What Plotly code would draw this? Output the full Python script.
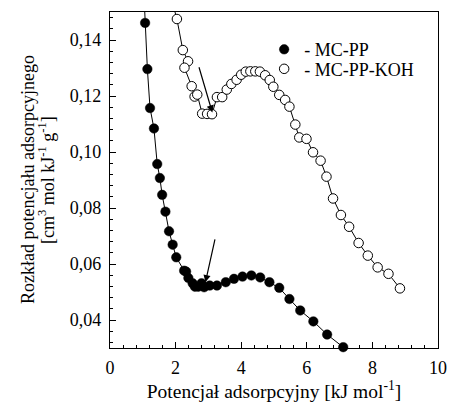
import plotly.graph_objects as go

# MC-PP (filled circles)
mcpp_x = [1.07, 1.14, 1.22, 1.34, 1.44, 1.52, 1.59, 1.69, 1.80, 1.91, 2.02, 2.26, 2.32,
          2.39, 2.52, 2.59, 2.69, 2.79, 2.87, 3.04, 3.26, 3.53, 3.78, 4.04, 4.31, 4.58,
          4.86, 5.16, 5.47, 5.80, 6.20, 6.62, 7.11]
mcpp_y = [0.1461, 0.1296, 0.1157, 0.1084, 0.0957, 0.0907, 0.0847, 0.0787, 0.0717, 0.0669,
          0.0624, 0.0576, 0.0573, 0.0550, 0.0531, 0.0519, 0.0519, 0.0531, 0.0517, 0.0523,
          0.0523, 0.0535, 0.0547, 0.0555, 0.0559, 0.0552, 0.0535, 0.0515, 0.0475, 0.0434,
          0.0395, 0.0348, 0.0303]
# points of the curve that lie above the plotted range
mcpp_lead_x = [1.02]
mcpp_lead_y = [0.16]

# MC-PP-KOH (open circles)
koh_x = [2.04, 2.22, 2.38, 2.27, 2.49, 2.58, 2.66, 2.81, 2.96, 3.11, 3.26, 3.42, 3.56,
         3.70, 3.86, 4.00, 4.14, 4.28, 4.43, 4.57, 4.73, 4.87, 4.98, 5.16, 5.34, 5.47,
         5.65, 5.77, 5.99, 6.19, 6.42, 6.60, 6.80, 7.04, 7.29, 7.58, 7.86, 8.16, 8.49, 8.84]
koh_y = [0.1475, 0.1364, 0.1324, 0.1301, 0.1235, 0.1198, 0.1205, 0.1137, 0.1136, 0.1135,
         0.1196, 0.1196, 0.1223, 0.1243, 0.1258, 0.1276, 0.1287, 0.1288, 0.1288, 0.1287,
         0.1274, 0.1257, 0.1233, 0.1204, 0.1186, 0.1162, 0.1098, 0.1052, 0.1047, 0.0999,
         0.0969, 0.0912, 0.0834, 0.0775, 0.0733, 0.0675, 0.0630, 0.0588, 0.0565, 0.0513]
koh_lead_x = [1.75]
koh_lead_y = [0.16]

# arrows: (tail x, tail y, tip x, tip y)
arrows = [(2.70, 0.1308, 3.12, 0.1141),
          (3.21, 0.0693, 2.91, 0.0535)]

FONT = "Liberation Serif, Times New Roman, DejaVu Serif, serif"
FS = 18

fig = go.Figure()

# connecting lines
fig.add_trace(go.Scatter(x=mcpp_lead_x + mcpp_x, y=mcpp_lead_y + mcpp_y, mode="lines",
                         line=dict(color="black", width=1), showlegend=False,
                         hoverinfo="skip"))
fig.add_trace(go.Scatter(x=koh_lead_x + koh_x, y=koh_lead_y + koh_y, mode="lines",
                         line=dict(color="black", width=1), showlegend=False,
                         hoverinfo="skip"))

# markers (each series gets its own small legend so the rows sit close together)
fig.add_trace(go.Scatter(x=mcpp_x, y=mcpp_y, mode="markers", name="- MC-PP",
                         marker=dict(symbol="circle", size=9.5, color="black",
                                     line=dict(color="black", width=0.5)),
                         cliponaxis=False, legend="legend"))
fig.add_trace(go.Scatter(x=koh_x, y=koh_y, mode="markers", name="- MC-PP-KOH",
                         marker=dict(symbol="circle", size=9.5, color="white",
                                     line=dict(color="black", width=1)),
                         cliponaxis=False, legend="legend2"))

for tx, ty, hx, hy in arrows:
    fig.add_annotation(x=hx, y=hy, ax=tx, ay=ty, xref="x", yref="y", axref="x", ayref="y",
                       text="", showarrow=True, arrowhead=2, arrowsize=1.2,
                       arrowwidth=1.2, arrowcolor="black")

# y-axis title, two tight lines
fig.add_annotation(text="Rozkład potencjału adsorpcyjnego", textangle=-90,
                   xref="paper", yref="paper", x=0, y=0.5, xanchor="center",
                   yanchor="middle", xshift=-82, showarrow=False,
                   font=dict(family=FONT, size=FS, color="black"))
fig.add_annotation(text="[cm<sup>3</sup> mol kJ<sup>-1</sup> g<sup>-1</sup>]", textangle=-90,
                   xref="paper", yref="paper", x=0, y=0.5, xanchor="center",
                   yanchor="middle", xshift=-64, showarrow=False,
                   font=dict(family=FONT, size=FS, color="black"))

axis_common = dict(
    showline=True, linecolor="black", linewidth=1.2, mirror=True,
    showgrid=False, zeroline=False,
    ticks="inside", ticklen=6, tickwidth=1, tickcolor="black",
    tickfont=dict(family=FONT, size=FS, color="black"),
)

fig.update_xaxes(range=[0, 10], dtick=2, tick0=0, ticklabelstandoff=3,
                 minor=dict(ticks="inside", ticklen=3, dtick=0.4, tickcolor="black"),
                 title=dict(text="Potencjał adsorpcyjny [kJ mol<sup>-1</sup>]",
                            font=dict(family=FONT, size=19.5, color="black"), standoff=0),
                 **axis_common)
fig.update_yaxes(range=[0.030, 0.150], dtick=0.02, tick0=0.04, tickformat=".2f",
                 ticklabelstandoff=4,
                 minor=dict(ticks="inside", ticklen=3, dtick=0.004, tickcolor="black"),
                 **axis_common)

legend_common = dict(xanchor="left", yanchor="middle", bgcolor="rgba(0,0,0,0)",
                     borderwidth=0, itemwidth=30,
                     font=dict(family=FONT, size=18, color="black"))

fig.update_layout(
    width=458, height=405,
    margin=dict(l=110, r=13, t=11, b=57),
    paper_bgcolor="white", plot_bgcolor="white",
    separators=", ",
    font=dict(family=FONT, size=FS, color="black"),
    legend=dict(x=0.47, y=0.888, **legend_common),
    legend2=dict(x=0.47, y=0.830, **legend_common),
)

# drop the default page margin so the figure fills the 458x405 window exactly
fig.write_html("out.html",
               config={"displayModeBar": False},
               post_script="document.body.style.margin='0';"
                           "document.body.style.overflow='hidden';")
